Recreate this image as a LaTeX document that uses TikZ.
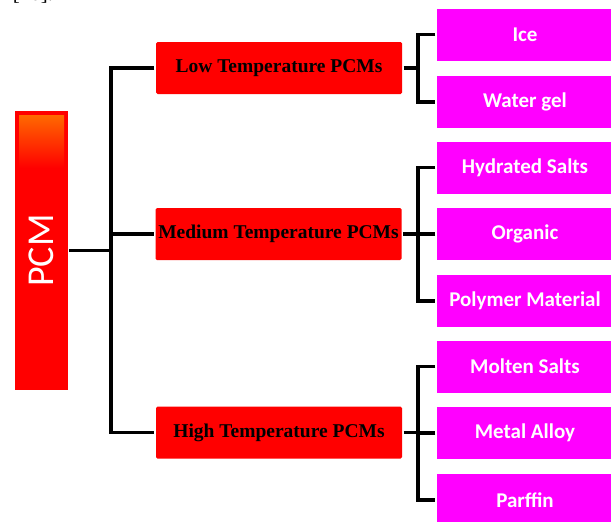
\documentclass[tikz,border=0pt]{standalone}
\usepackage{fontspec}
\setmainfont{Liberation Serif}
\newfontfamily\calfont{Carlito}
\definecolor{boxred}{RGB}{255,0,0}
\definecolor{boxmag}{RGB}{255,0,255}
\definecolor{topora}{RGB}{255,105,0}
\begin{document}
\begin{tikzpicture}[x=1pt,y=-1pt,line width=3.2pt,
    grp/.style={fill=boxred,minimum width=246pt,minimum height=52pt,inner sep=0pt,rounded corners=1.5pt,font=\fontsize{19.5}{20}\selectfont\bfseries},
    itm/.style={fill=boxmag,minimum width=176pt,minimum height=52pt,inner sep=0pt,text=white,font=\calfont\bfseries\fontsize{21}{22}\selectfont}]
                     \path[use as bounding box,clip](0,0)rectangle(611,522);
                     \node[anchor=base west,font=\fontsize{21}{22}\selectfont] (ref) at (8,1) {[20].};
                     % root
                     \node[fill=boxred,minimum width=53pt,minimum height=279pt,inner sep=0pt,text=white,font=\calfont\fontsize{38}{38}\selectfont] (pcm) at (41,250.5) {\rotatebox{90}{PCM}};
                     \shade[top color=topora,bottom color=boxred](19,115)rectangle(64,168);
                     % groups
                     \node[grp] (low)  at (279,68)    {Low Temperature PCMs};
                     \node[grp] (med)  at (278.5,234) {Medium Temperature PCMs};
                     \node[grp] (high) at (279,432.5) {High Temperature PCMs};
                     % items
                     \node[itm] (ice)  at (525,34.5)  {Ice};
                     \node[itm] (gel)  at (525,102)   {Water gel};
                     \node[itm] (hyd)  at (525,167.5) {Hydrated Salts};
                     \node[itm] (org)  at (525,234)   {Organic};
                     \node[itm] (poly) at (525,301)   {Polymer Material};
                     \node[itm] (molt) at (525,366.5) {Molten Salts};
                     \node[itm] (metl) at (525,433)   {Metal Alloy};
                     \node[itm] (parf) at (525,500)   {Parffin};
                     % connectors
                     \coordinate (tk) at (111,0);
                     \coordinate (bl) at (418,0);
                     \draw (pcm) -- (pcm -| tk);
                     \draw (low) -- (low -| tk) -- (high -| tk) -- (high);
                     \draw (med) -- (med -| tk);
                     \draw (low) -- (low -| bl);
                     \draw (ice) -- (ice -| bl) -- (gel -| bl) -- (gel);
                     \draw (med) -- (med -| bl);
                     \draw (hyd) -- (hyd -| bl) -- (poly -| bl) -- (poly);
                     \draw (org) -- (org -| bl);
                     \draw (high) -- (high -| bl);
                     \draw (molt) -- (molt -| bl) -- (parf -| bl) -- (parf);
                     \draw (metl) -- (metl -| bl);
                 \end{tikzpicture}
\end{document}
